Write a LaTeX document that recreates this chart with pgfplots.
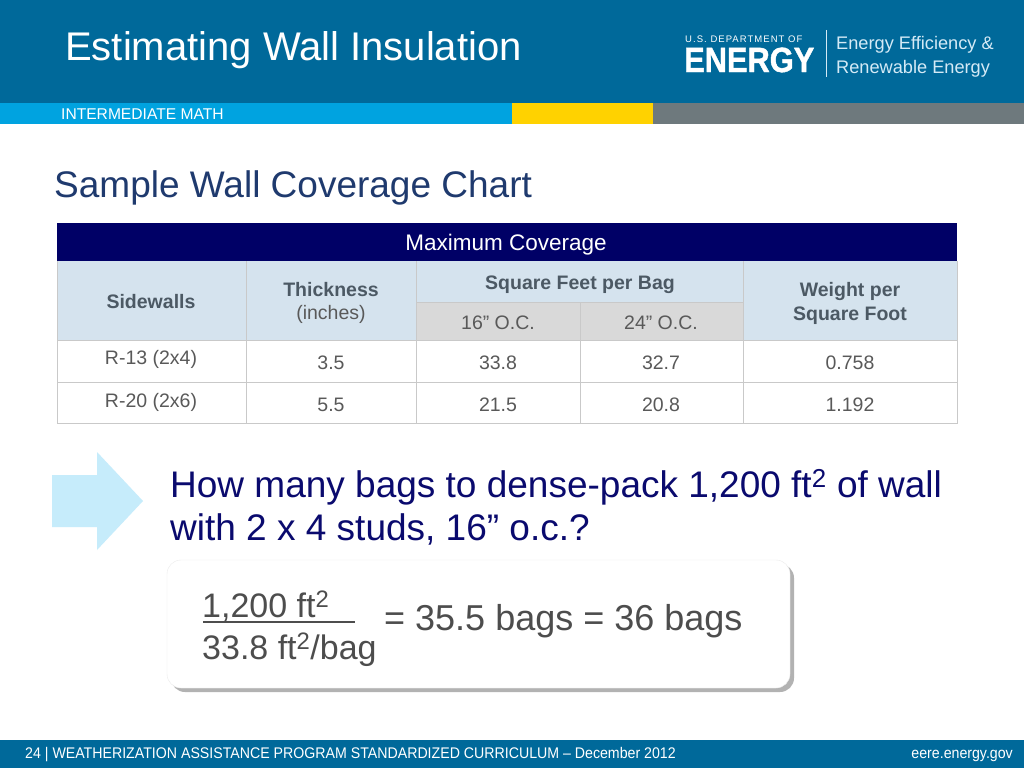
\documentclass[border=0pt]{standalone}
\usepackage{pgfplots}
\usepackage{pgfplotstable}
\usepackage{graphicx}
\usepackage{fontspec}
\pgfplotsset{compat=1.18}
\setmainfont{Liberation Sans}
\newfontfamily\narrowfont[FakeStretch=0.92]{Liberation Sans}
\newfontfamily\spacedfont[LetterSpace=11]{Liberation Sans}
\newfontfamily\logofont[FakeStretch=0.88,FakeBold=1.2]{Liberation Sans}
\definecolor{hdr}{HTML}{00699A}
\definecolor{strip}{HTML}{00A3E0}
\definecolor{yel}{HTML}{FFD200}
\definecolor{gry}{HTML}{6E797D}
\definecolor{navy}{HTML}{000066}
\definecolor{titleblue}{HTML}{1F3A6E}
\definecolor{cellblue}{HTML}{D5E3EE}
\definecolor{cellgray}{HTML}{D9D9D9}
\definecolor{txt}{HTML}{595959}
\definecolor{hdtxt}{HTML}{4C5964}
\definecolor{gridc}{HTML}{C9C9C9}
\definecolor{arrowc}{HTML}{C6ECFB}
\definecolor{eqtxt}{HTML}{4D4D4D}
\definecolor{logotxt}{HTML}{D4EAF6}
\definecolor{qnavy}{HTML}{0A0A6E}

\pgfplotstableread{
x y label
151 364 {R-13 (2x4)}
331 369 3.5
498 369 33.8
661 369 32.7
850 369 0.758
151 407 {R-20 (2x6)}
331 411 5.5
498 411 21.5
661 411 20.8
850 411 1.192
}\cells

\newcommand{\fs}[1]{\fontsize{#1}{#1}\selectfont}

\begin{document}
\begin{tikzpicture}
\begin{axis}[
  scale only axis, width=1024pt, height=768pt,
  xmin=0, xmax=1024, ymin=0, ymax=768, y dir=reverse,
  hide axis, clip=false,
]
% background
\fill[white] (0,0) rectangle (1024,768);
% header
\fill[hdr] (0,0) rectangle (1024,103);
\fill[strip] (0,103) rectangle (512,124);
\fill[yel] (512,103) rectangle (653,124);
\fill[gry] (653,103) rectangle (1024,124);
\node[anchor=base west, inner sep=0, text=white, font=\fs{40}] at (65,60) {Estimating Wall Insulation};
\node[anchor=base west, inner sep=0, text=white, font=\fs{15.6}] at (61,119) {INTERMEDIATE MATH};
% logo
\node[anchor=base west, inner sep=0, text=white, font=\spacedfont\fs{9.5}] at (685,42) {U.S. DEPARTMENT OF};
\node[anchor=base west, inner sep=0, text=white, font=\logofont\bfseries\fs{35}] at (684,72) {ENERGY};
\draw[logotxt, line width=1pt] (826,30) -- (826,77);
\node[anchor=base west, inner sep=0, text=logotxt, font=\fs{18.2}] at (836,49) {Energy Efficiency \&};
\node[anchor=base west, inner sep=0, text=logotxt, font=\fs{18.2}] at (836,73) {Renewable Energy};
% slide title
\node[anchor=base west, inner sep=0, text=titleblue, font=\fs{37}] at (54,197) {Sample Wall Coverage Chart};
% table
\fill[navy] (57,223) rectangle (957,261);
\fill[cellblue] (57,261) rectangle (957,340);
\fill[cellgray] (416,302) rectangle (743,340);
\draw[gridc, line width=0.8pt] (57,261) -- (57,423) -- (957,423) -- (957,261);
\draw[gridc, line width=0.8pt] (57,340) -- (957,340);
\draw[gridc, line width=0.8pt] (57,382) -- (957,382);
\draw[gridc, line width=0.8pt] (416,302) -- (743,302);
\draw[gridc, line width=0.8pt] (246,261) -- (246,423);
\draw[gridc, line width=0.8pt] (416,261) -- (416,423);
\draw[gridc, line width=0.8pt] (580,302) -- (580,423);
\draw[gridc, line width=0.8pt] (743,261) -- (743,423);
\node[anchor=base, inner sep=0, text=white, font=\fs{22.5}] at (506,250) {Maximum Coverage};
\node[anchor=base, inner sep=0, text=hdtxt, font=\bfseries\fs{19.5}] at (151,308) {Sidewalls};
\node[anchor=base, inner sep=0, text=hdtxt, font=\bfseries\fs{19.5}] at (331,296) {Thickness};
\node[anchor=base, inner sep=0, text=txt, font=\fs{19.5}] at (331,319) {(inches)};
\node[anchor=base, inner sep=0, text=hdtxt, font=\bfseries\fs{19.5}] at (580,289) {Square Feet per Bag};
\node[anchor=base, inner sep=0, text=txt, font=\fs{19.5}] at (498,329) {16" O.C.};
\node[anchor=base, inner sep=0, text=txt, font=\fs{19.5}] at (661,329) {24" O.C.};
\node[anchor=base, inner sep=0, text=hdtxt, font=\bfseries\fs{19.5}] at (850,296) {Weight per};
\node[anchor=base, inner sep=0, text=hdtxt, font=\bfseries\fs{19.5}] at (850,320) {Square Foot};
\addplot[draw=none, mark=none, nodes near coords, point meta=explicit symbolic,
  every node near coord/.style={anchor=base, inner sep=0, text=txt, font=\fs{19.5}}]
  table[x=x, y=y, meta=label] {\cells};
% arrow
\fill[arrowc] (52,475) -- (97,475) -- (97,452) -- (143,501) -- (97,550) -- (97,527) -- (52,527) -- cycle;
% question
\node[anchor=base west, inner sep=0, text=qnavy, font=\fs{37}] at (170,497) {How many bags to dense-pack 1,200 ft\textsuperscript{2} of wall};
\node[anchor=base west, inner sep=0, text=qnavy, font=\fs{37}] at (170,540) {with 2 x 4 studs, 16” o.c.?};
% equation box
\fill[black!30, rounded corners=14pt] (171,564) rectangle (794,692);
\fill[white, rounded corners=14pt] (167,560) rectangle (790,688);
\draw[black!8, rounded corners=14pt] (167,560) rectangle (790,688);
\node[anchor=base west, inner sep=0, text=eqtxt, font=\fs{34}] at (202,617) {1,200 ft\textsuperscript{2}};
\draw[eqtxt, line width=1.5pt] (203,622) -- (355,622);
\node[anchor=base west, inner sep=0, text=eqtxt, font=\fs{34}] at (202,659) {33.8 ft\textsuperscript{2}/bag};
\node[anchor=base west, inner sep=0, text=eqtxt, font=\fs{36}] at (384,630) {= 35.5 bags = 36 bags};
% footer
\fill[hdr] (0,740) rectangle (1024,768);
\node[anchor=base west, inner sep=0, text=white, font=\narrowfont\fs{15.4}] at (25,758) {24 | WEATHERIZATION ASSISTANCE PROGRAM STANDARDIZED CURRICULUM – December 2012};
\node[anchor=base east, inner sep=0, text=white, font=\narrowfont\fs{15.4}] at (1013,758) {eere.energy.gov};
\end{axis}
\end{tikzpicture}
\end{document}
